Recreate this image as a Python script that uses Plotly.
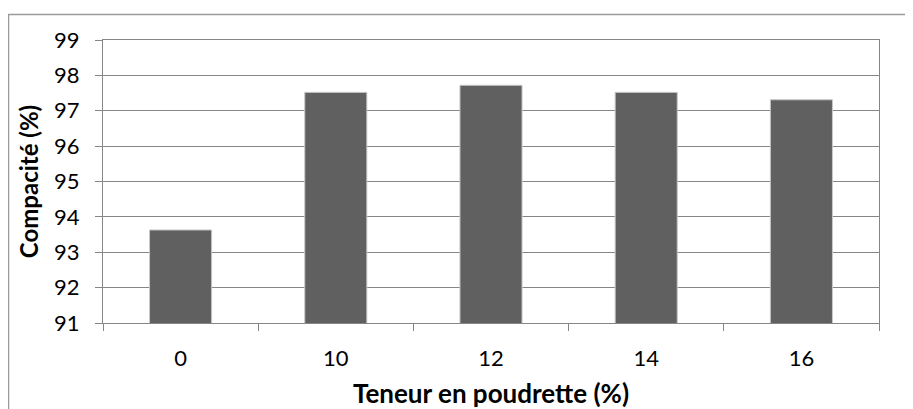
import plotly.graph_objects as go

categories = ["0", "10", "12", "14", "16"]
compacite = [93.63, 97.52, 97.72, 97.52, 97.31]
y_ticks = [91, 92, 93, 94, 95, 96, 97, 98, 99]

# page body has an 8px margin: build the figure 8px smaller and shift coordinates
OFF = 8
W, H = 913 - OFF, 409 - OFF
L, R, T, B = 103 - OFF, 879 - OFF, 39.5 - OFF, 323.5 - OFF

fig = go.Figure(go.Bar(
    x=categories, y=compacite, width=0.4,
    marker=dict(color="#606060", line=dict(color="#c8c8c8", width=1)),
))

font = "Lato"
fig.update_layout(
    width=W, height=H,
    margin=dict(l=L, r=W - R, t=T, b=H - B, pad=0, autoexpand=False),
    paper_bgcolor="white", plot_bgcolor="white",
    showlegend=False,
    font=dict(family=font, color="black", size=22),
    xaxis=dict(
        type="category", tickson="boundaries", ticks="outside", ticklen=7,
        tickcolor="#868686", tickwidth=1.3,
        showline=True, linecolor="#868686", linewidth=1.3, mirror=True,
        showgrid=False, automargin=False, ticklabelstandoff=15,
        tickfont=dict(family=font, size=22),
        title=dict(text="<b>Teneur en poudrette (%)</b>", standoff=19,
                   font=dict(family=font, size=26)),
    ),
    yaxis=dict(
        range=[91, 99], tickvals=y_ticks, ticks="outside", ticklen=7,
        tickcolor="#868686", tickwidth=1.3,
        showline=True, linecolor="#868686", linewidth=1.3, mirror=True,
        showgrid=True, gridcolor="#868686", gridwidth=1.3, automargin=False,
        ticklabelstandoff=11,
        tickfont=dict(family=font, size=22),
        title=dict(text="<b>Compacité (%)</b>", standoff=8,
                   font=dict(family=font, size=24)),
    ),
    shapes=[dict(
        type="rect", xref="paper", yref="paper",
        x0=(0.5 - L) / (R - L), x1=(903 - L) / (R - L),
        y0=(B - 430) / (B - T), y1=1 + (T - 6) / (B - T),
        line=dict(color="#9a9a9a", width=1.5), fillcolor="rgba(0,0,0,0)",
        layer="below",
    )],
)

fig.write_html("out.html")
